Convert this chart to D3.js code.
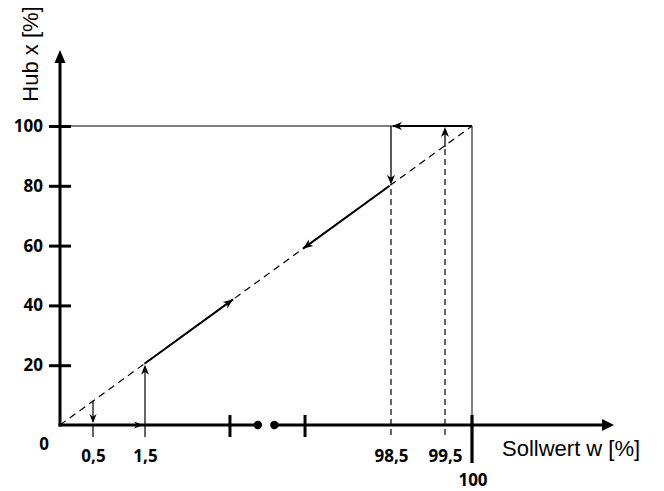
<!DOCTYPE html>
<html><head><meta charset="utf-8">
<script src="https://cdn.jsdelivr.net/npm/d3@7"></script>
<style>body{margin:0;background:#fff}svg{display:block}</style>
</head><body>
<svg id="c" width="664" height="491"></svg>
<script>
// ---- data ----
const wBreaks = [0, 0.5, 1.5, 98.5, 99.5, 100];          // Sollwert w [%] positions along the broken axis
const wTickValues = [0.5, 1.5, 98.5, 99.5];
const wTickLabels = ["0,5", "1,5", "98,5", "99,5"];
const wEndValue = 100, wEndLabel = "100";
const hubTicks = [20, 40, 60, 80, 100];
const hubAtW = [8, 20.5, 80, 93];                          // Hub x [%] on the characteristic at 0.5, 1.5, 98.5, 99.5
const riseSegment = [20.5, 42];                            // solid rising part (hub %)
const fallSegment = [80, 59];                              // solid falling part (hub %)
const breakTicks = [35, 64.6];                             // axis-break tick marks (w scale)
const breakDots = [46, 52.5];
const xTitle = "Sollwert w [%]", yTitle = "Hub x [%]";

// ---- scales ----
const svg = d3.select("#c");
const x = d3.scaleLinear().domain(wBreaks).range([60, 93, 145, 391, 445, 472]);
const y = d3.scaleLinear().domain([0, 100]).range([425, 126]);
const dx = d3.scaleLinear().domain([0, 100]).range([x(0), x(100)]); // diagonal position for a hub value
const numFont = "'Open Sans', 'Liberation Sans', sans-serif";
const txtFont = "'Liberation Sans', Arial, sans-serif";
const numSize = 17;

function line(x1, y1, x2, y2, w, dash) {
  const l = svg.append("line").attr("x1", x1).attr("y1", y1).attr("x2", x2).attr("y2", y2)
    .attr("stroke", "#000").attr("stroke-width", w);
  if (dash) l.attr("stroke-dasharray", dash);
  return l;
}
function head(px, py, angleDeg, size) {
  const s = size || 1;
  svg.append("path").attr("d", `M0,0 L${-10*s},${-4*s} L${-7*s},0 L${-10*s},${4*s} Z`)
    .attr("transform", `translate(${px},${py}) rotate(${angleDeg})`).attr("fill", "#000");
}

const y0 = y(0);

// diagonal dashed characteristic
line(dx(0), y(0), dx(100), y(100), 1.2, "7,5");

// top line 100 %
line(x(0), y(100), x(100), y(100), 1);
line(x(100), y(100), x(98.5) + 2, y(100), 2);
head(x(98.5) + 1, y(100), 180);
// vertical at 100
line(x(100), y(100), x(100), y0, 1);

// dashed verticals at 98.5 and 99.5
line(x(98.5), y0 + 10, x(98.5), y(hubAtW[2]), 1.2, "6,4");
line(x(99.5), y0 + 10, x(99.5), y(hubAtW[3]), 1.2, "6,4");
// solid arrows there
line(x(98.5), y(100), x(98.5), y(hubAtW[2]) - 3, 1.3);
head(x(98.5), y(hubAtW[2]) - 1, 90);
line(x(99.5), y(hubAtW[3]), x(99.5), y(100) + 3, 1.3);
head(x(99.5), y(100) + 1, -90);

// arrows at 0.5 and 1.5
line(x(0.5), y(hubAtW[0]), x(0.5), y0 - 3, 1.2);
head(x(0.5), y0 - 2, 90, 0.9);
line(x(0.5), y0, x(0.5), y0 + 12, 1.2);
line(x(1.5), y0 + 12, x(1.5), y(hubAtW[1]) + 3, 1.2);
head(x(1.5), y(hubAtW[1]) + 1, -90);

// solid rising and falling segments on the diagonal
const ang = Math.atan2(y(100) - y(0), dx(100) - dx(0)) * 180 / Math.PI;
line(dx(riseSegment[0]), y(riseSegment[0]), dx(riseSegment[1]), y(riseSegment[1]), 2);
head(dx(riseSegment[1]), y(riseSegment[1]), ang);
line(dx(fallSegment[0]), y(fallSegment[0]), dx(fallSegment[1]), y(fallSegment[1]), 2);
head(dx(fallSegment[1]), y(fallSegment[1]), ang + 180);

// ---- x axis (broken) ----
line(x(0) - 1.5, y0, x(breakDots[0]), y0, 3);
line(x(breakDots[1]), y0, 603, y0, 3);
svg.append("path").attr("d", `M614,${y0} L602,${y0 - 6} L602,${y0 + 6} Z`).attr("fill", "#000");
breakDots.forEach(d => svg.append("circle").attr("cx", x(d)).attr("cy", y0).attr("r", 4.2).attr("fill", "#000"));
breakTicks.forEach(d => line(x(d), y0 - 10, x(d), y0 + 12, 3));
line(x(100), y0 - 10, x(100), y0 + 38, 3.2);
head(x(1.5) - 2, y0, 0, 0.9);

// x tick labels via axis generator (labels only)
const xAxis = d3.axisBottom(x).tickValues(wTickValues).tickFormat((d, i) => wTickLabels[i]).tickSize(0);
const gx = svg.append("g").attr("transform", `translate(0,${y0 + 22})`).call(xAxis);
gx.select(".domain").remove();
gx.selectAll("text").attr("font-family", numFont).attr("font-weight", 700).attr("font-size", numSize).attr("fill", "#000").attr("dy", "0.71em");
svg.append("text").attr("x", x(wEndValue) + 1).attr("y", 486).attr("text-anchor", "middle")
  .attr("font-family", numFont).attr("font-weight", 700).attr("font-size", numSize).text(wEndLabel);

// ---- y axis ----
line(x(0), y0 + 1.5, x(0), 62, 3);
svg.append("path").attr("d", `M${x(0)},50 L${x(0) - 5.5},63 L${x(0) + 5.5},63 Z`).attr("fill", "#000");
const yAxis = d3.axisLeft(y).tickValues(hubTicks).tickSize(11).tickPadding(6);
const gy = svg.append("g").attr("transform", `translate(${x(0)},0)`).call(yAxis);
gy.select(".domain").remove();
gy.selectAll(".tick line").attr("x1", 11).attr("stroke-width", 3).attr("stroke", "#000");
gy.selectAll("text").attr("font-family", numFont).attr("font-weight", 700).attr("font-size", numSize).attr("fill", "#000").attr("x", -17);
svg.append("text").attr("x", 44).attr("y", 450).attr("text-anchor", "middle")
  .attr("font-family", numFont).attr("font-weight", 700).attr("font-size", numSize).text("0");

// titles
svg.append("text").attr("x", 502).attr("y", 456).attr("font-family", txtFont).attr("font-size", 22).text(xTitle);
svg.append("text").attr("transform", "translate(38,54) rotate(-90)").attr("text-anchor", "middle")
  .attr("font-family", txtFont).attr("font-size", 22).text(yTitle);
</script>
</body></html>
